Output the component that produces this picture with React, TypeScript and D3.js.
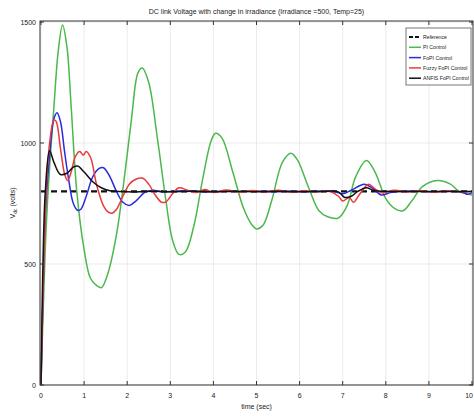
import React from "react";
import * as d3 from "d3";

const title = "DC link Voltage with change in irradiance (Irradiance =500, Temp=25)";
const xLabel = "time (sec)";
const xTicks = [0, 1, 2, 3, 4, 5, 6, 7, 8, 9, 10];
const yTicks = [0, 500, 1000, 1500];
const legendLabels = ["Reference", "PI Control", "FoPI Control", "Fuzzy FoPI Control", "ANFIS FoPI Control"];

const refT = [0, 10];
const refV = [800, 800];

const piT = [0, 0.05, 0.12, 0.2, 0.3, 0.4, 0.5, 0.6, 0.7, 0.83, 1.0, 1.15, 1.3, 1.4, 1.55, 1.75, 1.95, 2.1, 2.25, 2.35, 2.5, 2.7, 2.9, 3.05, 3.2, 3.35, 3.55, 3.75, 3.95, 4.05, 4.2, 4.45, 4.7, 4.9, 5.0, 5.15, 5.35, 5.6, 5.8, 5.95, 6.2, 6.45, 6.65, 6.9, 7.1, 7.3, 7.55, 7.75, 8.0, 8.2, 8.4, 8.6, 8.85, 9.2, 9.5, 9.7, 10];
const piV = [0, 300, 650, 900, 1150, 1380, 1488, 1400, 1150, 800, 560, 440, 410, 402, 460, 620, 880, 1100, 1290, 1310, 1250, 1020, 760, 600, 540, 550, 660, 850, 1010, 1040, 1020, 880, 730, 660, 645, 660, 760, 920, 958, 930, 820, 720, 695, 690, 740, 860, 928, 880, 770, 730, 720, 760, 820, 845, 830, 800, 785];

const fopiT = [0, 0.05, 0.1, 0.2, 0.3, 0.37, 0.45, 0.55, 0.65, 0.75, 0.85, 0.92, 1.05, 1.2, 1.35, 1.45, 1.6, 1.75, 1.9, 2.05, 2.2, 2.4, 2.6, 2.8, 3.0, 3.4, 3.8, 4.2, 4.6, 5.0, 5.4, 5.8, 6.2, 6.6, 6.8, 7.0, 7.2, 7.5, 7.7, 7.9, 8.1, 8.3, 8.7, 9.1, 9.5, 9.8, 9.9, 10];
const fopiV = [0, 400, 700, 950, 1100, 1125, 1090, 960, 840, 750, 722, 725, 780, 860, 895, 898, 860, 800, 755, 742, 760, 795, 805, 798, 800, 803, 798, 801, 799, 802, 798, 801, 799, 802, 800, 790, 805, 830, 812, 785, 795, 800, 802, 798, 801, 795, 788, 795];

const fuzzyT = [0, 0.05, 0.12, 0.2, 0.3, 0.35, 0.45, 0.55, 0.62, 0.7, 0.8, 0.9, 0.98, 1.05, 1.15, 1.3, 1.45, 1.55, 1.65, 1.75, 1.9, 2.05, 2.2, 2.35, 2.5, 2.65, 2.8, 2.9, 3.05, 3.2, 3.4, 3.6, 3.8, 4.0, 4.3, 4.6, 4.9, 5.2, 5.5, 5.8, 6.1, 6.4, 6.7, 6.9, 7.0, 7.15, 7.25, 7.4, 7.6, 7.75, 7.9, 8.2, 8.5, 8.8, 9.1, 9.4, 9.7, 10];
const fuzzyV = [0, 400, 800, 1000, 1095, 1090, 980, 870, 845, 880, 945, 965, 950, 965, 940, 820, 740, 715, 710, 725, 780, 830, 850, 855, 830, 785, 755, 757, 790, 815, 805, 795, 808, 796, 806, 797, 804, 798, 805, 797, 803, 798, 800, 780, 760, 775, 755, 790, 830, 810, 795, 805, 798, 803, 797, 802, 799, 800];

const anfisT = [0, 0.04, 0.1, 0.2, 0.3, 0.45, 0.6, 0.75, 0.85, 1.0, 1.2, 1.4, 1.6, 1.8, 2.2, 2.6, 3.0, 3.5, 4.0, 4.5, 5.0, 5.5, 6.0, 6.5, 6.9, 7.05, 7.2, 7.35, 7.55, 7.7, 8.0, 8.5, 9.0, 9.5, 10];
const anfisV = [0, 450, 800, 968, 920, 870, 875, 900, 905, 880, 840, 815, 803, 800, 798, 801, 799, 801, 799, 801, 799, 801, 799, 800, 798, 775, 780, 800, 815, 805, 800, 800, 800, 800, 800];

const W = 474, H = 417;
const left = 40, right = 473, top = 21, bottom = 385;

export default function App() {
  const x = d3.scaleLinear().domain([0, 10]).range([left + 1, right - 1]);
  const y = d3.scaleLinear().domain([0, 1500]).range([bottom, top + 1]);
  const mk = (ts: number[], vs: number[], curve: any) =>
    d3.line<number>().x((_, i) => x(ts[i])).y((v) => y(v)).curve(curve)(vs) || "";
  const cr = d3.curveCatmullRom.alpha(0.5);
  const series = [
    { d: mk(refT, refV, d3.curveLinear), color: "#111", w: 2.2, dash: "6,4" },
    { d: mk(piT, piV, cr), color: "#4cb84c", w: 1.5, dash: "" },
    { d: mk(fopiT, fopiV, cr), color: "#2a2ae0", w: 1.5, dash: "" },
    { d: mk(fuzzyT, fuzzyV, cr), color: "#e83a3a", w: 1.5, dash: "" },
    { d: mk(anfisT, anfisV, cr), color: "#111", w: 1.5, dash: "" },
  ];
  const font = "Liberation Sans, Arial, sans-serif";
  return (
    <div style={{ position: "absolute", left: 0, top: 0 }}>
      <svg width={W} height={H} style={{ display: "block", background: "#fff" }} fontFamily={font}>
        <defs>
          <clipPath id="plot">
            <rect x={left} y={top} width={right - left} height={bottom - top} />
          </clipPath>
        </defs>
        {xTicks.map((t) => (
          <line key={"gx" + t} x1={x(t)} x2={x(t)} y1={top} y2={bottom} stroke="#e6e6e6" strokeWidth={0.8} />
        ))}
        {yTicks.map((t) => (
          <line key={"gy" + t} x1={left} x2={right} y1={y(t)} y2={y(t)} stroke="#e6e6e6" strokeWidth={0.8} />
        ))}
        <g clipPath="url(#plot)">
          {series.map((s, i) => (
            <path key={i} d={s.d} fill="none" stroke={s.color} strokeWidth={s.w} strokeDasharray={s.dash || undefined} strokeLinejoin="round" />
          ))}
        </g>
        <rect x={left} y={top} width={right - left} height={bottom - top} fill="none" stroke="#333" strokeWidth={1} />
        {xTicks.map((t, i) => (
          <g key={"tx" + t}>
            <line x1={x(t)} x2={x(t)} y1={bottom} y2={bottom - 4} stroke="#333" />
            <line x1={x(t)} x2={x(t)} y1={top} y2={top + 4} stroke="#333" />
            <text x={i === xTicks.length - 1 ? W - 1 : x(t)} y={bottom + 13} fontSize={7} textAnchor={i === xTicks.length - 1 ? "end" : "middle"} fill="#222">{t}</text>
          </g>
        ))}
        {yTicks.map((t) => (
          <g key={"ty" + t}>
            <line x1={left} x2={left + 4} y1={y(t)} y2={y(t)} stroke="#333" />
            <line x1={right} x2={right - 4} y1={y(t)} y2={y(t)} stroke="#333" />
            <text x={left - 4} y={y(t) + 2.5} fontSize={7} textAnchor="end" fill="#222">{t}</text>
          </g>
        ))}
        <text x={(left + right) / 2} y={409} fontSize={7} textAnchor="middle" fill="#222">{xLabel}</text>
        <text transform={`translate(15, ${(top + bottom) / 2}) rotate(-90)`} fontSize={7} textAnchor="middle" fill="#222">
          V<tspan fontSize={5} dy={2}>dc</tspan><tspan dy={-2}> (volts)</tspan>
        </text>
        <text x={(left + right) / 2} y={14} fontSize={7} textAnchor="middle" fill="#222">{title}</text>
        <g>
          <rect x={406} y={28} width={65} height={57} fill="#fff" stroke="#555" strokeWidth={0.8} />
          {legendLabels.map((lab, i) => (
            <g key={lab}>
              <line x1={409} x2={421} y1={37 + i * 10.3} y2={37 + i * 10.3} stroke={series[i].color} strokeWidth={i === 0 ? 2 : 1.5} strokeDasharray={series[i].dash ? "4,2" : undefined} />
              <text x={423} y={39 + i * 10.3} fontSize={5.2} fill="#222">{lab}</text>
            </g>
          ))}
        </g>
      </svg>
    </div>
  );
}
